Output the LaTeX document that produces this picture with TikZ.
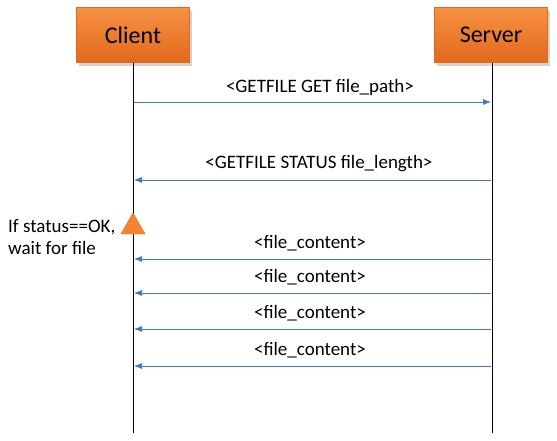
\documentclass[tikz,border=0pt]{standalone}
\usepackage{fontspec}
\setmainfont{Carlito}
\usetikzlibrary{positioning, arrows.meta, shapes.geometric, shadows}
\definecolor{boxorange}{HTML}{F5842F}
\definecolor{boxedge}{HTML}{E2691C}
\definecolor{msgblue}{HTML}{4472C4}

\begin{document}
\begin{tikzpicture}[
  x=1pt, y=-1pt,
  every node/.style={font=\fontsize{19}{22}\selectfont, align=center},
  actor/.style={rectangle, draw=boxedge, top color=boxorange!90!white, bottom color=boxedge,
                minimum width=113pt, minimum height=55pt, inner sep=0pt,
                font=\fontsize{24}{28}\selectfont,
                drop shadow={shadow xshift=2pt, shadow yshift=-3pt, opacity=0.35}},
  lifeline/.style={black, line width=0.8pt},
  msg/.style={-{Latex[length=8pt, width=6pt]}, msgblue, line width=0.7pt},
  note/.style={align=left, inner sep=0pt},
  waitmark/.style={isosceles triangle, isosceles triangle apex angle=60, shape border rotate=90,
                   fill=boxorange, draw=boxedge, minimum height=21pt, inner sep=0pt}
]
\useasboundingbox (0,0) rectangle (557,440);

\node[actor] (client) at (133,35) {Client};
\node[actor] (server) at (491,35) {Server};

\coordinate (clientend) at (133,433);
\coordinate (serverend) at (492,433);
\draw[lifeline] (client.south) -- (clientend);
\draw[lifeline] (server.south -| serverend) -- (serverend);

% request
\coordinate (c1) at (134,102); \coordinate (s1) at (491,102);
\draw[msg] (c1) -- (s1);
\node (get) at (320,87) {<GETFILE GET file\_path>};

% status
\coordinate (c2) at (134,180); \coordinate (s2) at (491,180);
\draw[msg] (s2) -- (c2);
\node (status) at (319,164) {<GETFILE STATUS file\_length>};

\node[waitmark] (wait) at (133,227) {};
\node[note, anchor=west] (cond) at (8,237) {If status==OK,\\wait for file};

% file content
\foreach \y/\n in {259/1, 293/2, 329/3, 366/4} {
  \coordinate (cc\n) at (134,\y); \coordinate (sc\n) at (491,\y);
  \draw[msg] (sc\n) -- (cc\n);
  \node (content\n) at (310,\y-16) {<file\_content>};
}
\end{tikzpicture}
\end{document}
